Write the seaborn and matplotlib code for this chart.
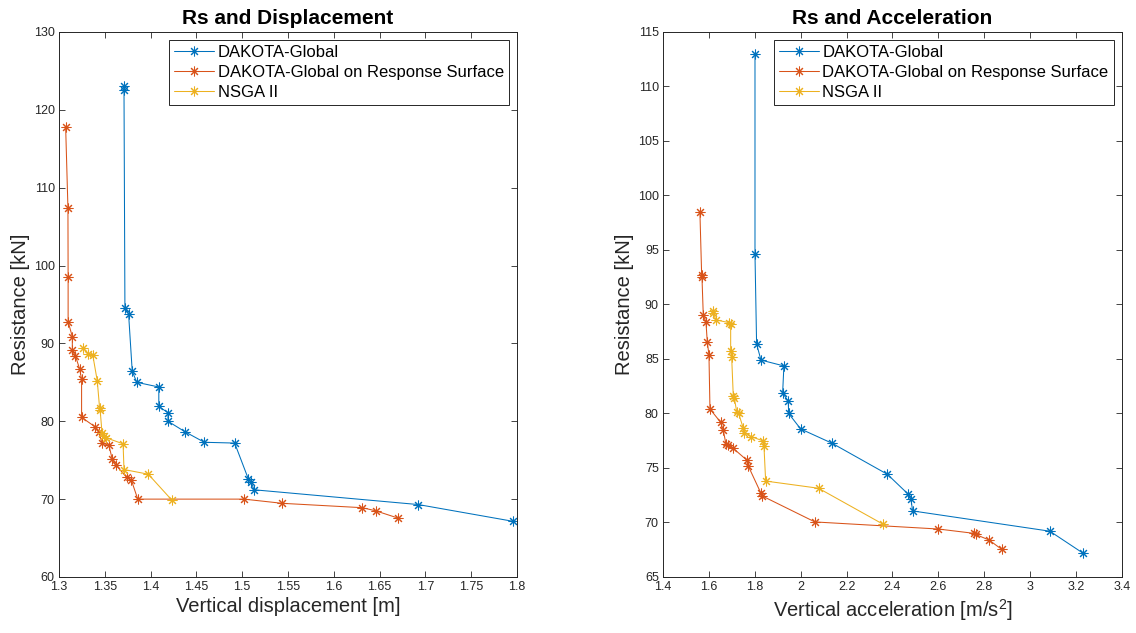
import numpy as np
import pandas as pd
import matplotlib
matplotlib.use("Agg")
import matplotlib.pyplot as plt
from matplotlib.ticker import FormatStrFormatter, MultipleLocator
import seaborn as sns

# ---------------- data ----------------
series_names = ["DAKOTA-Global", "DAKOTA-Global on Response Surface", "NSGA II"]
series_colors = ["#0072BD", "#D95319", "#EDB120"]

# Left panel: Resistance vs vertical displacement
disp_global_x = [1.371, 1.371, 1.372, 1.376, 1.380, 1.385, 1.409, 1.409, 1.419, 1.419,
                 1.4376, 1.4587, 1.4918, 1.5067, 1.510, 1.5129, 1.6923, 1.7956]
disp_global_y = [123.0, 122.5, 94.6, 93.8, 86.4, 85.0, 84.4, 81.9, 81.1, 80.0,
                 78.65, 77.3, 77.2, 72.6, 72.15, 71.2, 69.3, 67.15]

disp_rs_x = [1.3073, 1.3098, 1.310, 1.310, 1.3146, 1.3146, 1.318, 1.3226, 1.3247, 1.3247,
             1.3393, 1.3437, 1.347, 1.3546, 1.358, 1.362, 1.3739, 1.379, 1.386, 1.502,
             1.5438, 1.631, 1.6457, 1.670]
disp_rs_y = [117.8, 107.4, 98.5, 92.8, 90.85, 89.1, 88.4, 86.7, 85.4, 80.5,
             79.3, 78.6, 77.2, 76.9, 75.2, 74.4, 72.8, 72.45, 70.0, 70.0,
             69.46, 68.9, 68.5, 67.57]

disp_nsga_x = [1.326, 1.332, 1.337, 1.3418, 1.3444, 1.345, 1.347, 1.349, 1.351, 1.370,
               1.371, 1.3975, 1.423]
disp_nsga_y = [89.4, 88.7, 88.45, 85.2, 81.65, 81.4, 78.5, 78.1, 77.9, 77.1,
               73.8, 73.2, 69.9]

# Right panel: Resistance vs vertical acceleration
acc_global_x = [1.801, 1.801, 1.808, 1.827, 1.927, 1.9214, 1.946, 1.9476, 2.0, 2.1377,
                2.378, 2.469, 2.4806, 2.488, 3.086, 3.2315]
acc_global_y = [113.0, 94.6, 86.38, 84.9, 84.36, 81.85, 81.15, 80.0, 78.58, 77.26,
                74.42, 72.59, 72.13, 71.06, 69.2, 67.17]

acc_rs_x = [1.561, 1.5686, 1.570, 1.5756, 1.5874, 1.593, 1.6004, 1.6048, 1.6514, 1.6628,
            1.6745, 1.682, 1.7064, 1.7647, 1.7718, 1.827, 1.8327, 2.062, 2.6, 2.7566,
            2.7625, 2.8205, 2.8758]
acc_rs_y = [98.46, 92.7, 92.5, 89.04, 88.37, 86.6, 85.37, 80.41, 79.19, 78.49,
            77.17, 77.1, 76.8, 75.73, 75.18, 72.68, 72.43, 70.05, 69.4, 69.0,
            68.9, 68.4, 67.54]

acc_nsga_x = [1.6164, 1.620, 1.631, 1.689, 1.695, 1.695, 1.6994, 1.7064, 1.711, 1.721,
              1.73, 1.75, 1.753, 1.7848, 1.837, 1.84, 1.8475, 2.078, 2.36]
acc_nsga_y = [89.4, 89.2, 88.58, 88.33, 88.2, 85.73, 85.15, 81.6, 81.45, 80.17,
              80.0, 78.64, 78.24, 77.87, 77.48, 77.05, 73.8, 73.14, 69.83]

left_title = "Rs and Displacement"
right_title = "Rs and Acceleration"
left_xlabel = "Vertical displacement [m]"
right_xlabel = "Vertical acceleration [m/s$^{2}$]"
ylabel = "Resistance [kN]"

# ---------------- style ----------------
sns.set_theme(style="ticks")
plt.rcParams["font.family"] = ["Liberation Sans", "DejaVu Sans"]
plt.rcParams["mathtext.default"] = "regular"

axis_gray = "#262626"

fig = plt.figure(figsize=(11.36, 6.33), dpi=100)
ax_l = fig.add_axes([0.0519, 0.0885, 0.4032, 0.8610])
ax_r = fig.add_axes([0.5836, 0.0885, 0.4040, 0.8610])

asterisk = (8, 2, 0)


def draw_panel(ax, xs, ys):
    for name, color, x, y in zip(series_names, series_colors, xs, ys):
        df = pd.DataFrame({"x": x, "y": y})
        sns.lineplot(data=df, x="x", y="y", sort=False, estimator=None, ax=ax,
                     color=color, label=name, linewidth=0.75, marker=asterisk,
                     markersize=7, markeredgewidth=0.75, markeredgecolor=color)


draw_panel(ax_l, [disp_global_x, disp_rs_x, disp_nsga_x],
           [disp_global_y, disp_rs_y, disp_nsga_y])
draw_panel(ax_r, [acc_global_x, acc_rs_x, acc_nsga_x],
           [acc_global_y, acc_rs_y, acc_nsga_y])


def style_axes(ax, xlim, ylim, xstep, ystep, title, xlabel):
    ax.set_xlim(*xlim)
    ax.set_ylim(*ylim)
    ax.xaxis.set_major_locator(MultipleLocator(xstep))
    ax.yaxis.set_major_locator(MultipleLocator(ystep))
    ax.xaxis.set_major_formatter(FormatStrFormatter("%g"))
    ax.yaxis.set_major_formatter(FormatStrFormatter("%g"))
    for sp in ax.spines.values():
        sp.set_visible(True)
        sp.set_color(axis_gray)
        sp.set_linewidth(0.7)
    ax.tick_params(direction="in", length=4, width=0.6, colors=axis_gray,
                   labelsize=9, top=True, right=True, pad=3)
    ax.set_title(title, fontsize=15, fontweight="bold", color="black", pad=6)
    ax.set_xlabel(xlabel, fontsize=14.5, color=axis_gray, labelpad=3)
    ax.set_ylabel(ylabel, fontsize=14.5, color=axis_gray, labelpad=3)
    leg = ax.legend(loc="upper right", fontsize=12, frameon=True, fancybox=False,
                    framealpha=1, edgecolor=axis_gray, borderpad=0.3,
                    labelspacing=0.3, handlelength=2.4, handletextpad=0.2,
                    borderaxespad=0.5)
    leg.get_frame().set_linewidth(0.7)
    for t in leg.get_texts():
        t.set_color("black")


style_axes(ax_l, (1.3, 1.8), (60, 130), 0.05, 10, left_title, left_xlabel)
style_axes(ax_r, (1.4, 3.4), (65, 115), 0.2, 5, right_title, right_xlabel)

fig.savefig("out.png", dpi=100, facecolor="white")
